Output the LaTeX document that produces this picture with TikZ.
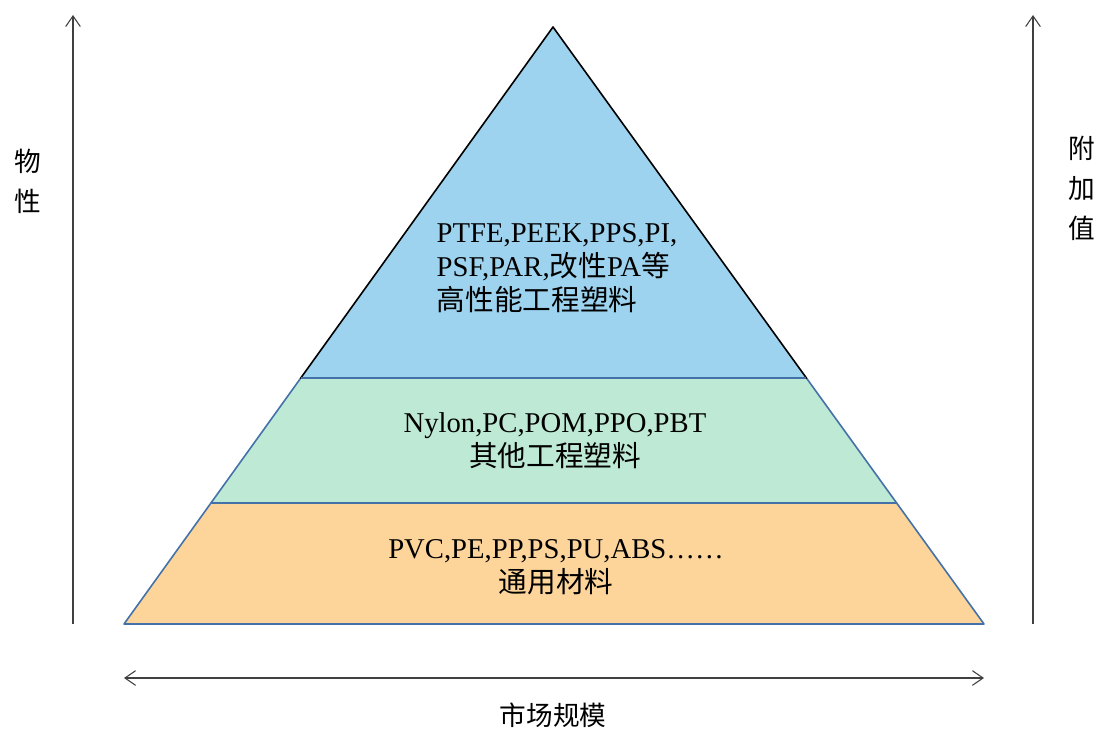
\documentclass[tikz,border=0pt]{standalone}
\usepackage{fontspec}
\setmainfont{Liberation Serif}
\newfontfamily\cjk{Noto Sans CJK SC}
\usetikzlibrary{positioning,arrows.meta,calc}
\definecolor{topfill}{HTML}{9DD3EE}
\definecolor{midfill}{HTML}{BDE9D5}
\definecolor{lowfill}{HTML}{FDD59B}
\definecolor{bandline}{HTML}{4472A8}
\tikzset{
  barb/.tip={Straight Barb[length=8pt,width=11pt]},
  axis/.style={draw=black!75, line width=0.8pt, -barb},
  band/.style={draw=bandline, line width=1.2pt, line join=round},
  label/.style={font=\fontsize{21.5}{25.5}\selectfont, align=center, inner sep=0pt},
  side/.style={font=\cjk\fontsize{20}{30}\selectfont, align=center, inner sep=0pt}
}
\begin{document}
\begin{tikzpicture}[x=0.75pt, y=-0.75pt]
    \useasboundingbox (0,0) rectangle (1099,729);
    \coordinate (apex) at (553,27);
    \coordinate (bl) at (124,624);
    \coordinate (br) at (984,624);
    \coordinate (ul) at ($(apex)!351/597!(bl)$);
    \coordinate (ur) at ($(apex)!351/597!(br)$);
    \coordinate (ml) at ($(apex)!476/597!(bl)$);
    \coordinate (mr) at ($(apex)!476/597!(br)$);

    % bands
    \filldraw[band, fill=lowfill] (ml) -- (mr) -- (br) -- (bl) -- cycle;
    \filldraw[band, fill=midfill] (ul) -- (ur) -- (mr) -- (ml) -- cycle;
    \filldraw[fill=topfill, draw=black, line width=1.2pt, line join=round] (apex) -- (ur) -- (ul) -- cycle;
    \draw[band] (ul) -- (ur);

    \node[label, align=left] (high) at (557,268) {PTFE,PEEK,PPS,PI,\\PSF,PAR,{\cjk 改性}PA{\cjk 等}\\{\cjk 高性能工程塑料}};
    \node[label] (mid) at (555,441) {Nylon,PC,POM,PPO,PBT\\{\cjk 其他工程塑料}};
    \node[label] (low) at (556,567) {PVC,PE,PP,PS,PU,ABS……\\{\cjk 通用材料}};

    % axes
    \coordinate (lb) at (73,624);
    \coordinate (lt) at (73,15);
    \coordinate (rb) at (1033,624);
    \coordinate (rt) at (1033,15);
    \coordinate (ha) at (124,678);
    \coordinate (hb) at (984,678);
    \draw[axis] (lb) -- (lt);
    \draw[axis] (rb) -- (rt);
    \draw[axis, barb-barb] (ha) -- (hb);

    \node[side] (prop) at (28,181) {物\\性};
    \node[side] (value) at (1082,188) {附\\加\\值};
    \node[side] (market) at (553,715) {市场规模};
  \end{tikzpicture}
\end{document}
